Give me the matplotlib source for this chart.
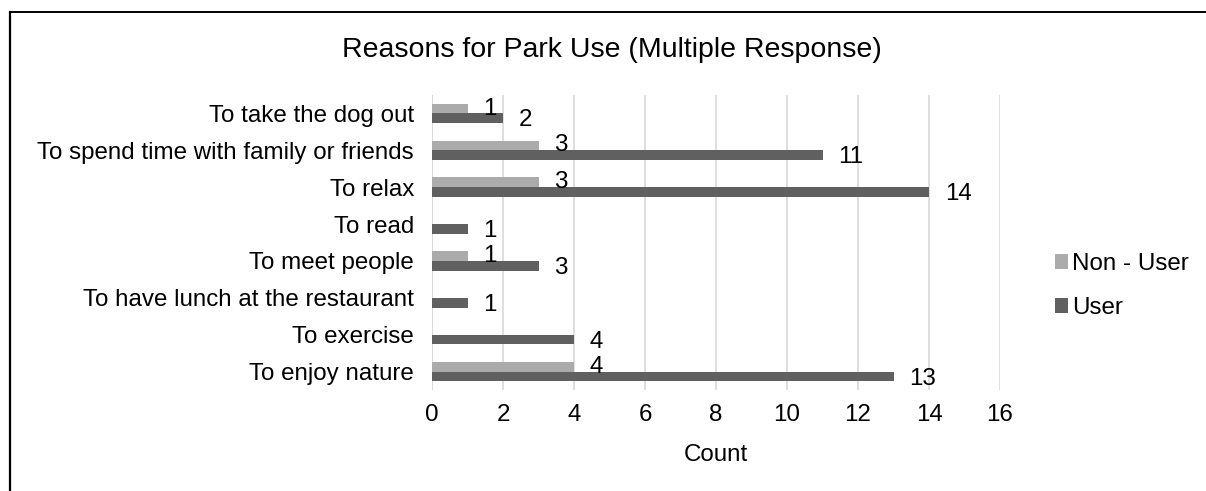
import matplotlib
matplotlib.use("Agg")
import matplotlib.pyplot as plt
from matplotlib.lines import Line2D
import numpy as np

plt.rcParams['font.family'] = ['Liberation Sans', 'DejaVu Sans']

categories = [
    "To enjoy nature",
    "To exercise",
    "To have lunch at the restaurant",
    "To meet people",
    "To read",
    "To relax",
    "To spend time with family or friends",
    "To take the dog out",
]
non_user = [4, 0, 0, 1, 0, 3, 3, 1]
user = [13, 4, 1, 3, 1, 14, 11, 2]
x_ticks = [0, 2, 4, 6, 8, 10, 12, 14, 16]

light = "#ABABAB"
dark = "#606060"
fs = 17.4

W, H = 1206, 491
fig = plt.figure(figsize=(W / 100, H / 100), dpi=100)
ax = fig.add_axes([432 / W, 1 - 390 / H, (1000 - 432) / W, (390 - 95) / H])

y = np.arange(len(categories))
h = 0.265
bn = ax.barh(y + h / 2, non_user, height=h, color=light, label="Non - User")
bu = ax.barh(y - h / 2, user, height=h, color=dark, label="User")

for yi, v in zip(y, non_user):
    if v:
        ax.annotate(str(v), (v, yi + h / 2), xytext=(11.5, 0), textcoords="offset points",
                    ha="left", va="center", fontsize=fs)
for yi, v in zip(y, user):
    ax.annotate(str(v), (v, yi - h / 2), xytext=(11.5, -1.5), textcoords="offset points",
                ha="left", va="center", fontsize=fs)

ax.set_xlim(0, 16)
ax.set_ylim(-0.5, len(categories) - 0.5)
ax.set_xticks(x_ticks)
ax.set_yticks(y)
ax.set_yticklabels(categories)
ax.tick_params(axis="both", length=0, labelsize=fs)
ax.tick_params(axis="x", pad=10)
ax.tick_params(axis="y", pad=13)
ax.grid(axis="x", color="#D9D9D9", linewidth=1.2)
ax.set_axisbelow(True)
for s in ax.spines.values():
    s.set_visible(False)
ax.axvline(0, color="#D9D9D9", linewidth=1.2, zorder=0)
ax.set_xlabel("Count", fontsize=fs, labelpad=13)

fig.text(612 / W, 1 - 50 / H, "Reasons for Park Use (Multiple Response)",
         ha="center", va="center", fontsize=20.5)

fig.legend(handles=[bn, bu], loc="center left", bbox_to_anchor=(1033 / W, 1 - 286 / H),
           frameon=False, fontsize=fs, handlelength=0.55, handleheight=0.55,
           handletextpad=0.15, labelspacing=0.9)

# outer frame: top and left edges
fig.add_artist(Line2D([9.5 / W, 1.0], [1 - 11.5 / H, 1 - 11.5 / H], transform=fig.transFigure,
                      color="black", linewidth=1.4))
fig.add_artist(Line2D([9.5 / W, 9.5 / W], [1 - 11.5 / H, 0.0], transform=fig.transFigure,
                      color="black", linewidth=1.6))

fig.savefig("out.png", dpi=100)
